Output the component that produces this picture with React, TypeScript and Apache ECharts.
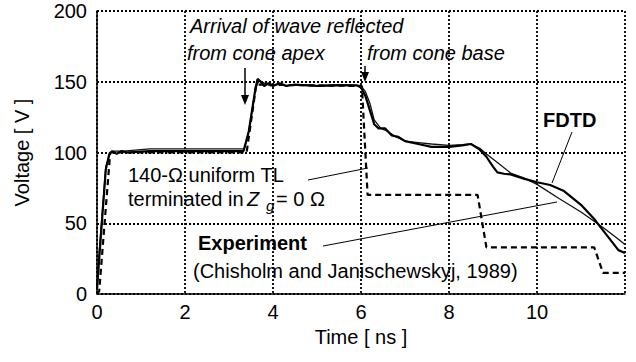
import React, { useEffect, useRef } from "react";
import * as echarts from "echarts";

// Time axis (ns) and voltages (V)
const tlTime = [0, 0.05, 0.3, 3.4, 3.62, 6.02, 6.15, 8.65, 8.85, 11.3, 11.5, 12];
const tlVolt = [0, 2, 100, 100, 148, 147, 70, 70, 33, 33, 15, 15];

const expTime = [0, 0.05, 0.2, 0.3, 0.4, 0.6, 0.8, 1.2, 2, 3, 3.35, 3.45, 3.6, 3.68, 3.8, 3.95, 4.1, 4.3, 4.6, 5, 5.5, 5.9, 6.0, 6.1, 6.2, 6.3, 6.45, 6.6, 6.8, 7.0, 7.3, 7.6, 8.0, 8.3, 8.5, 8.7, 8.85, 9.1, 9.4, 9.7, 10, 10.5, 11, 11.5, 11.8, 12];
const expVolt = [5, 30, 90, 100, 101, 101, 101.5, 102.5, 102.5, 102.5, 102.5, 115, 145, 151, 149, 147, 148.5, 147.5, 148, 147.5, 148, 147.5, 147, 143, 135, 123, 117, 115, 111, 108, 107, 106, 105, 105.5, 106, 103, 99, 93, 85.5, 82, 77.5, 67.5, 58, 47, 40, 35];

const fdtdTime = [0, 0.05, 0.2, 0.28, 0.35, 0.45, 0.55, 0.7, 0.9, 1.2, 2, 3, 3.33, 3.45, 3.6, 3.65, 3.72, 3.8, 3.9, 4.0, 4.15, 4.3, 4.5, 5, 5.5, 5.9, 6.0, 6.1, 6.2, 6.3, 6.4, 6.55, 6.7, 6.85, 7.0, 7.3, 7.6, 8.0, 8.3, 8.5, 8.7, 8.85, 9.0, 9.1, 9.25, 9.4, 9.7, 10, 10.3, 10.6, 11.0, 11.3, 11.5, 11.7, 11.85, 12];
const fdtdVolt = [3, 25, 88, 99, 101, 99, 101, 100, 100.5, 101, 101, 101, 101, 115, 145, 152, 150, 147, 149, 147, 149, 147, 148, 147, 147.5, 147.5, 146, 140, 130, 120, 117, 117, 112, 111, 108, 106, 104, 104, 105, 106, 102, 97, 90, 86, 85, 84.5, 81.5, 79, 77, 73, 63, 53, 45, 37, 31, 29];

const xTicks = { min: 0, max: 12, interval: 2 };
const yTicks = { min: 0, max: 200, interval: 50 };

const FONT = "'Liberation Sans', Arial, Helvetica, sans-serif";

const zip = (a: number[], b: number[]) => a.map((t, i) => [t, b[i]]);

function txt(text: string, x: number, y: number, extra: any = {}) {
  return {
    type: "text",
    x,
    y,
    z: 10,
    style: {
      text,
      fill: "#000",
      fontSize: 20,
      fontFamily: FONT,
      align: "left",
      verticalAlign: "middle",
      textAlign: "left",
      textVerticalAlign: "middle",
      ...extra,
    },
  };
}

function line(x1: number, y1: number, x2: number, y2: number, w = 1) {
  return {
    type: "line",
    z: 10,
    shape: { x1, y1, x2, y2 },
    style: { stroke: "#000", lineWidth: w },
  };
}

function arrow(x: number, yTop: number, yTip: number) {
  return [
    line(x, yTop, x, yTip - 6, 1.5),
    {
      type: "polygon",
      z: 10,
      shape: { points: [[x - 4, yTip - 10], [x + 4, yTip - 10], [x, yTip]] },
      style: { fill: "#000" },
    },
  ];
}

export default function App() {
  const ref = useRef<HTMLDivElement>(null);
  useEffect(() => {
    if (!ref.current) return;
    const chart = echarts.init(ref.current, undefined, { renderer: "svg" });
    const grid = { color: "#000", width: 1.8, type: [2, 2] as any };
    chart.setOption({
      animation: false,
      backgroundColor: "#fff",
      grid: { left: 97, right: 11, top: 11, bottom: 68 },
      xAxis: {
        type: "value",
        ...xTicks,
        name: "Time [ ns ]",
        nameLocation: "middle",
        nameGap: 33,
        nameTextStyle: { color: "#000", fontSize: 20, fontFamily: FONT },
        axisLine: { show: true, lineStyle: { color: "#000", width: 1.5 } },
        axisTick: { show: false },
        axisLabel: { color: "#000", fontSize: 20, fontFamily: FONT, margin: 8, showMaxLabel: false },
        splitLine: { show: true, lineStyle: grid },
      },
      yAxis: {
        type: "value",
        ...yTicks,
        name: "Voltage [ V ]",
        nameLocation: "middle",
        nameGap: 65,
        nameTextStyle: { color: "#000", fontSize: 20, fontFamily: FONT },
        axisLine: { show: true, lineStyle: { color: "#000", width: 1.5 } },
        axisTick: { show: false },
        axisLabel: { color: "#000", fontSize: 20, fontFamily: FONT, margin: 10 },
        splitLine: { show: true, lineStyle: grid },
      },
      series: [
        {
          type: "line",
          name: "140-Ω uniform TL",
          data: zip(tlTime, tlVolt),
          showSymbol: false,
          lineStyle: { color: "#000", width: 2.2, type: [6, 4] as any },
          z: 2,
        },
        {
          type: "line",
          name: "Experiment",
          data: zip(expTime, expVolt),
          showSymbol: false,
          lineStyle: { color: "#111", width: 1.3 },
          z: 3,
        },
        {
          type: "line",
          name: "FDTD",
          data: zip(fdtdTime, fdtdVolt),
          showSymbol: false,
          lineStyle: { color: "#000", width: 2.2 },
          z: 4,
        },
      ],
      graphic: [
        txt("Arrival of wave reflected", 190, 26, { fontStyle: "italic" }),
        txt("from cone apex", 187, 53, { fontStyle: "italic" }),
        txt("from cone base", 367, 53, { fontStyle: "italic" }),
        ...arrow(245, 68, 105),
        ...arrow(365, 66, 82),
        txt("140-Ω uniform TL", 128, 175),
        txt("terminated in", 128, 199),
        txt("Z", 247, 199, { fontStyle: "italic" }),
        txt("g", 266, 205, { fontStyle: "italic", fontSize: 15 }),
        txt("= 0 Ω", 276, 199),
        txt("Experiment", 198, 243, { fontWeight: "bold" }),
        txt("(Chisholm and Janischewskyj, 1989)", 193, 271),
        txt("FDTD", 543, 120, { fontWeight: "bold" }),
        line(308, 180, 368, 168),
        line(323, 246, 557, 202),
        line(572, 132, 552, 183),
      ],
    });
    return () => chart.dispose();
  }, []);
  return (
    <div
      ref={ref}
      style={{ position: "absolute", left: 0, top: 0, width: 636, height: 362, background: "#fff" }}
    />
  );
}
